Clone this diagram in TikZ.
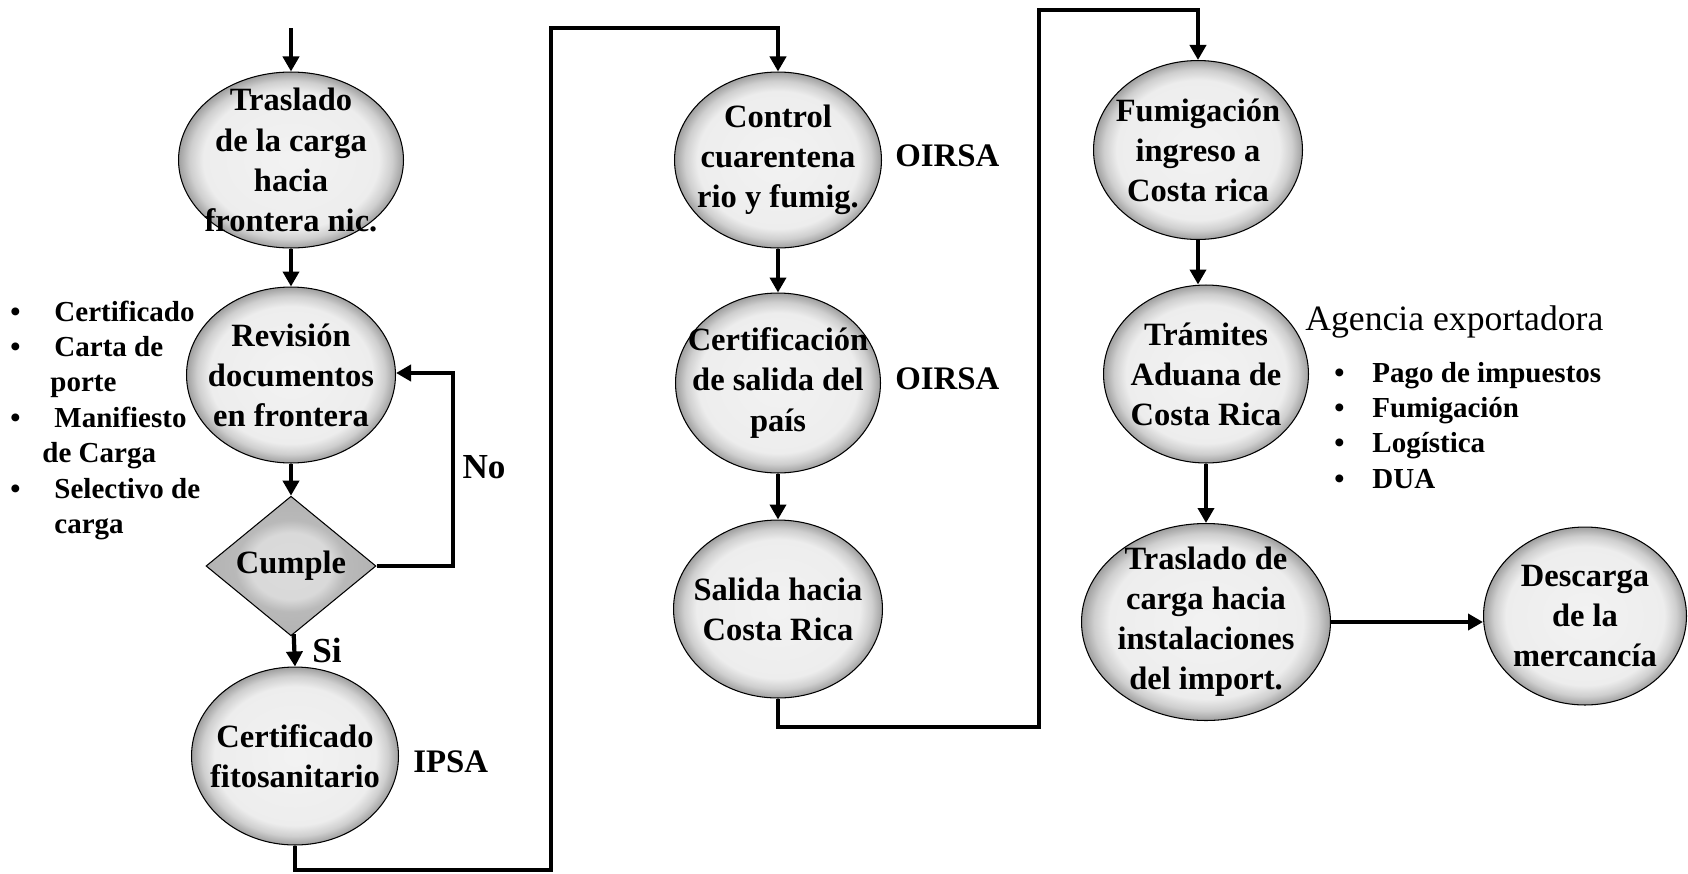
\documentclass[tikz,border=0pt]{standalone}
\usepackage{fontspec}
\setmainfont{Liberation Serif}
\usetikzlibrary{shapes.geometric}
\usetikzlibrary{arrows.meta}

\pgfdeclareradialshading{bevel}{\pgfpoint{0bp}{0bp}}{color(0bp)=(gray!10); color(19.5bp)=(gray!14); color(22.5bp)=(gray!38); color(25bp)=(gray!75); color(50bp)=(gray!75)}
\pgfdeclareradialshading{diamondbevel}{\pgfpoint{0bp}{0bp}}{color(0bp)=(gray!28); color(12bp)=(gray!30); color(16.5bp)=(gray!55); color(25bp)=(gray!60); color(50bp)=(gray!60)}

\tikzset{
 proc/.style={ellipse, draw=black, line width=.6pt, shading=bevel, inner sep=0pt},
 decide/.style={diamond, draw=black, line width=.6pt, shading=diamondbevel, inner sep=0pt, minimum width=3.4cm, minimum height=2.44cm, font=\fontsize{18.5}{22.8}\selectfont\bfseries},
 txt/.style={font=\fontsize{18.5}{22.8}\selectfont\bfseries, align=center},
 con/.style={line width=2.4pt, -{Triangle[length=.3cm, width=.32cm]}},
 side/.style={font=\fontsize{18.7}{22}\selectfont\bfseries, inner sep=0pt},
 lst/.style={font=\fontsize{16.5}{20.2}\selectfont\bfseries, anchor=base west, inner sep=0pt},
}

\begin{document}
\begin{tikzpicture}[x=0.02cm, y=-0.02cm]
\useasboundingbox (0,0) rectangle (1688,873);

\node[proc, minimum width=4.5cm, minimum height=3.52cm, label={[txt]center:Traslado\\de la carga\\hacia\\frontera nic.}] (tras) at (291,160) {};
\node[proc, minimum width=4.18cm, minimum height=3.52cm, label={[txt]center:Revisión\\documentos\\en frontera}] (revi) at (291,375) {};
\node[decide] (cumple) at (291,566) {Cumple};
\node[proc, minimum width=4.14cm, minimum height=3.56cm, label={[txt]center:Certificado\\fitosanitario}] (fito) at (295,756) {};

\node[proc, minimum width=4.14cm, minimum height=3.52cm, label={[txt]center:Control\\cuarentena\\rio y fumig.}] (ctrl) at (778,160) {};
\node[proc, minimum width=4.1cm, minimum height=3.6cm, label={[txt]center:Certificación\\de salida del\\país}] (certsal) at (778,383) {};
\node[proc, minimum width=4.18cm, minimum height=3.56cm, label={[txt]center:Salida hacia\\Costa Rica}] (salida) at (778,609) {};

\node[proc, minimum width=4.18cm, minimum height=3.58cm, label={[txt]center:Fumigación\\ingreso a\\Costa rica}] (fumi) at (1198,150) {};
\node[proc, minimum width=4.1cm, minimum height=3.56cm, label={[txt]center:Trámites\\Aduana de\\Costa Rica}] (tram) at (1206,374) {};
\node[proc, minimum width=4.98cm, minimum height=3.94cm, label={[txt]center:Traslado de\\carga hacia\\instalaciones\\del import.}] (trascr) at (1206,622) {};
\node[proc, minimum width=4.06cm, minimum height=3.56cm, label={[txt]center:Descarga\\de la\\mercancía}] (desc) at (1585,616) {};

\node[lst] (docs) at (10,321) {\begin{tabular}[t]{@{}l@{\hspace{0.68cm}}l@{}}
\textbullet & Certificado\\
\textbullet & Carta de\\
 & \hspace*{-0.08cm}porte\\
\textbullet & Manifiesto\\
 & \hspace*{-0.24cm}de Carga\\
\textbullet & Selectivo de\\
 & carga
\end{tabular}};
\node[anchor=base west, inner sep=0pt, font=\fontsize{20.3}{24}\selectfont] (agencia) at (1305,330) {Agencia exportadora};
\node[lst] (tareas) at (1334,382) {\begin{tabular}[t]{@{}l@{\hspace{0.56cm}}l@{}}
\textbullet & Pago de impuestos\\
\textbullet & Fumigación\\
\textbullet & Logística\\
\textbullet & DUA
\end{tabular}};

\node[side, anchor=west] (oirsa1) at (895,156) {OIRSA};
\node[side, anchor=west] (oirsa2) at (895,379) {OIRSA};
\node[side, anchor=west] (ipsa) at (413,762) {IPSA};
\node[side, font=\fontsize{20}{24}\selectfont\bfseries] (no) at (484,467) {No};

\coordinate (top) at (291,28);
\draw[con] (top) -- (tras);
\draw[con] (tras) -- (revi);
\draw[con] (revi) -- (cumple);
\draw[con] (cumple) -- (fito |- fito.north) node[midway, right, xshift=9pt, side, font=\fontsize{20}{24}\selectfont\bfseries] (si) {Si};
\coordinate (noturn) at (453,373);
\draw[con] (cumple) -| (noturn) -- (noturn -| revi.east);

\coordinate (low1) at (551,870);
\coordinate (high1) at (551,28);
\draw[con] (fito) -- (fito |- low1) -- (low1) -- (high1) -- (high1 -| ctrl) -- (ctrl);
\draw[con] (ctrl) -- (certsal);
\draw[con] (certsal) -- (salida);

\coordinate (low2) at (1039,727);
\coordinate (high2) at (1039,10);
\draw[con] (salida) -- (salida |- low2) -- (low2) -- (high2) -- (high2 -| fumi) -- (fumi);
\draw[con] (fumi) -- (fumi |- tram.north);
\draw[con] (tram) -- (trascr);
\draw[con] (trascr) -- (trascr -| desc.west);
\end{tikzpicture}
\end{document}
